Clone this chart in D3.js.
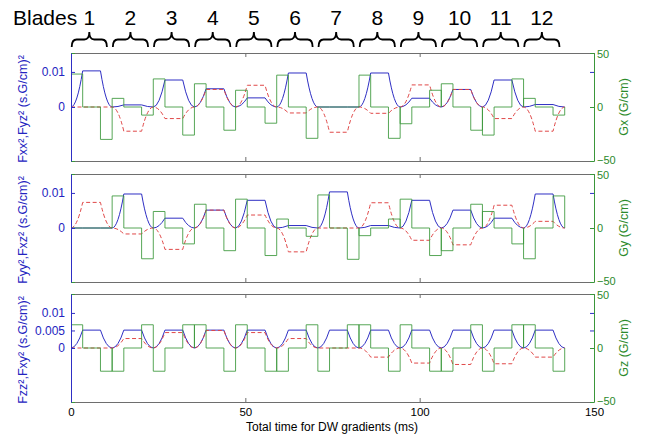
<!DOCTYPE html>
<html>
<head>
<meta charset="utf-8">
<script src="https://cdn.jsdelivr.net/npm/d3@7"></script>
<style>
  body { margin: 0; background: #fff; }
  svg { display: block; }
  text { font-family: "Liberation Sans", Arial, sans-serif; }
</style>
</head>
<body>
<svg id="chart" width="645" height="436"></svg>
<script>
// blade boundaries (ms) and lobe duration
const bladeEdges = [0, 11.8, 23.6, 35.4, 47.2, 59.0, 70.8, 82.6, 94.4, 106.2, 118.0, 129.8, 141.6];
const lobeMs = 3.35;
const bladeLabels = ['1', '2', '3', '4', '5', '6', '7', '8', '9', '10', '11', '12'];

// gradient amplitude (G/cm) of the first and second lobe of each blade
const gxLobeA = [30.5, 8, 26, 21.5, 15.5, 29.5, 0, 29.5, -15.5, 21.5, -26, 8];
const gxLobeB = [-30, -7.5, -26, -21.5, -15, -29, 0, -29, 15.5, -21.5, 26, -7.5];
const gyLobeA = [0, 29.7, 15.3, 22, 26.7, 8.3, 30.6, -7.1, 26.7, -21, 15.3, -28.5];
const gyLobeB = [0, -28.5, -14.7, -21, -25.5, -7.7, -29, 8.3, -25.5, 22, -14.7, 29.7];
const gzLobeA = [21.5, -21.5, -21.5, 21.5, 21.5, -21.5, -21.5, 21.5, 21.5, -21.5, -21.5, 21.5];
const gzLobeB = [-21.5, 21.5, 21.5, -21.5, -21.5, 21.5, 21.5, -21.5, -21.5, 21.5, 21.5, -21.5];

// plateau of each moment product between the two lobes, (s.G/cm)^2
const fxxSq = [0.0103, 0.0006, 0.0077, 0.0052, 0.0026, 0.0097, 0, 0.0097, 0.0025, 0.0050, 0.0077, 0.0007];
const fyzSq = [0, -0.0069, -0.0033, 0.0050, 0.0062, -0.0017, -0.0072, -0.0018, 0.0063, 0.0050, -0.0033, -0.0069];
const fyySq = [0, 0.0097, 0.0028, 0.0051, 0.0079, 0.0007, 0.0103, 0.0007, 0.0079, 0.0051, 0.0028, 0.0097];
const fxzSq = [0.0073, -0.0017, -0.0061, 0.0051, 0.0037, -0.0068, 0, 0.0072, -0.0035, -0.0048, 0.0065, 0.0019];
const fzzSq = [0.0051, 0.0051, 0.0051, 0.0051, 0.0051, 0.0051, 0.0051, 0.0051, 0.0051, 0.0051, 0.0051, 0.0051];
const fxySq = [0, 0.0027, 0.0044, 0.0050, 0.0044, 0.0027, 0, -0.0026, -0.0043, -0.0047, -0.0045, -0.0026];

const xTicks = [0, 50, 100, 150];
const gTicks = [-50, 0, 50];

const panels = [
  { top: 53, gA: gxLobeA, gB: gxLobeB, blue: fxxSq, red: fyzSq, fTicks: [0, 0.01],
    fLabel: 'Fxx²,Fyz² (s.G/cm)²', gLabel: 'Gx (G/cm)' },
  { top: 174, gA: gyLobeA, gB: gyLobeB, blue: fyySq, red: fxzSq, fTicks: [0, 0.01],
    fLabel: 'Fyy²,Fxz² (s.G/cm)²', gLabel: 'Gy (G/cm)' },
  { top: 294, gA: gzLobeA, gB: gzLobeB, blue: fzzSq, red: fxySq, fTicks: [0, 0.005, 0.01],
    fLabel: 'Fzz²,Fxy² (s.G/cm)²', gLabel: 'Gz (G/cm)' }
];

const panelH = 108;
const blue = '#2f2fc4';
const red = '#e04848';
const green = '#3a963a';
const greenText = '#2c8a2c';
const blueText = '#2323c0';
const gray = '#6e6e6e';

const svg = d3.select('#chart');
const x = d3.scaleLinear().domain([0, 150]).range([71, 594]);

// moments grow quadratically while a lobe is on: draw ramps as parabolas
function rampCurve(baseY) {
  return function (context) {
    let px, py, started;
    return {
      areaStart() {},
      areaEnd() {},
      lineStart() { started = false; },
      lineEnd() {},
      point(cx, cy) {
        cx = +cx; cy = +cy;
        if (!started) { context.moveTo(cx, cy); started = true; }
        else if (Math.abs(cy - py) < 0.01) context.lineTo(cx, cy);
        else context.quadraticCurveTo((px + cx) / 2, baseY, cx, cy);
        px = cx; py = cy;
      }
    };
  };
}

const blades = bladeLabels.map((label, i) => ({ label, t0: bladeEdges[i], t1: bladeEdges[i + 1] }));

// blade braces and numbers
svg.append('text')
  .attr('x', 13).attr('y', 25)
  .attr('font-size', 21).attr('fill', '#000')
  .text('Blades');

blades.forEach((b) => {
  const x0 = x(b.t0 + 0.2), x1 = x(b.t0 + 10.3), cx = (x0 + x1) / 2;
  const p = d3.path();
  p.moveTo(x0, 47);
  p.quadraticCurveTo(x0, 39.5, x0 + 5, 39.5);
  p.lineTo(cx - 5, 39.5);
  p.quadraticCurveTo(cx, 39.5, cx, 32);
  p.quadraticCurveTo(cx, 39.5, cx + 5, 39.5);
  p.lineTo(x1 - 5, 39.5);
  p.quadraticCurveTo(x1, 39.5, x1, 47);
  svg.append('path').attr('d', p.toString())
    .attr('fill', 'none').attr('stroke', '#000').attr('stroke-width', 1.8);
  svg.append('text')
    .attr('x', cx).attr('y', 25)
    .attr('text-anchor', 'middle')
    .attr('font-size', 21).attr('fill', '#000')
    .text(b.label);
});

panels.forEach((pan, pi) => {
  const yF = d3.scaleLinear().domain([-0.0154, 0.0154]).range([pan.top + panelH, pan.top]);
  const yG = d3.scaleLinear().domain([-50, 50]).range([pan.top + panelH, pan.top]);

  svg.append('clipPath').attr('id', 'clip' + pi)
    .append('rect')
    .attr('x', x(0)).attr('y', pan.top - 1)
    .attr('width', x(150) - x(0)).attr('height', panelH + 2);

  const plot = svg.append('g').attr('clip-path', `url(#clip${pi})`);

  const fPoints = (vals) => blades.flatMap((b, i) => [
    [b.t0, 0], [b.t0 + lobeMs, vals[i]], [b.t1 - lobeMs, vals[i]], [b.t1, 0]
  ]);
  const fLine = d3.line()
    .x((d) => x(d[0]))
    .y((d) => yF(d[1]))
    .curve(rampCurve(yF(0)));

  plot.append('path')
    .attr('d', fLine(fPoints(pan.blue)))
    .attr('fill', 'none').attr('stroke', blue).attr('stroke-width', 1);

  plot.append('path')
    .attr('d', fLine(fPoints(pan.red)))
    .attr('fill', 'none').attr('stroke', red).attr('stroke-width', 1)
    .attr('stroke-dasharray', '4,2.5');

  const gLine = d3.line()
    .x((d) => x(d[0]))
    .y((d) => yG(d[1]))
    .curve(d3.curveStepAfter);

  blades.forEach((b, i) => {
    const pts = [[b.t0, 0], [b.t0, pan.gA[i]], [b.t0 + lobeMs, 0], [b.t1 - lobeMs, pan.gB[i]], [b.t1, 0]];
    plot.append('path')
      .attr('d', gLine(pts))
      .attr('fill', 'none').attr('stroke', green).attr('stroke-width', 1)
      .attr('stroke-opacity', 0.85);
  });

  // axes
  const styleAxis = (sel, color, textColor, size) => {
    sel.select('.domain').attr('stroke', color);
    sel.selectAll('.tick line').attr('stroke', color);
    sel.selectAll('.tick text').attr('fill', textColor).attr('font-size', size || 12)
      .attr('font-family', '"Liberation Sans", Arial, sans-serif');
  };

  const top = svg.append('g').attr('transform', `translate(0,${pan.top})`)
    .call(d3.axisTop(x).tickValues(xTicks).tickSizeInner(-4).tickSizeOuter(0).tickFormat(''));
  styleAxis(top, gray, gray);

  const bottom = svg.append('g').attr('transform', `translate(0,${pan.top + panelH})`)
    .call(d3.axisBottom(x).tickValues(xTicks).tickSizeInner(-4).tickSizeOuter(0).tickPadding(6)
      .tickFormat(pi === 2 ? (d) => String(d) : ''));
  styleAxis(bottom, gray, '#000', 11.5);

  // mirrored ticks (no labels)
  const rightF = svg.append('g').attr('transform', `translate(${x(150)},0)`)
    .call(d3.axisRight(yF).tickValues(pan.fTicks).tickSizeInner(-4).tickSizeOuter(0).tickFormat(''));
  rightF.select('.domain').remove();
  styleAxis(rightF, blue, blue);

  const leftG = svg.append('g').attr('transform', `translate(${x(0)},0)`)
    .call(d3.axisLeft(yG).tickValues(gTicks).tickSizeInner(-4).tickSizeOuter(0).tickFormat(''));
  leftG.select('.domain').remove();
  styleAxis(leftG, green, green);

  const left = svg.append('g').attr('transform', `translate(${x(0)},0)`)
    .call(d3.axisLeft(yF).tickValues(pan.fTicks).tickSizeInner(-4).tickSizeOuter(0).tickPadding(6)
      .tickFormat((d) => String(d)));
  styleAxis(left, blue, blueText);

  const right = svg.append('g').attr('transform', `translate(${x(150)},0)`)
    .call(d3.axisRight(yG).tickValues(gTicks).tickSizeInner(-4).tickSizeOuter(0).tickPadding(3));
  styleAxis(right, green, greenText, 11);
  right.selectAll('.tick text').filter((d) => d < 0).attr('dy', '0.2em');
  right.selectAll('.tick text').filter((d) => d > 0).attr('dy', '0.4em');

  // axis titles
  svg.append('text')
    .attr('transform', `translate(27,${pan.top + panelH / 2 + 2}) rotate(-90)`)
    .attr('text-anchor', 'middle')
    .attr('font-size', 12.5).attr('fill', blueText)
    .text(pan.fLabel);

  svg.append('text')
    .attr('transform', `translate(628,${pan.top + panelH / 2}) rotate(-90)`)
    .attr('text-anchor', 'middle')
    .attr('font-size', 12.5).attr('fill', greenText)
    .text(pan.gLabel);
});

svg.append('text')
  .attr('x', 332).attr('y', 431)
  .attr('text-anchor', 'middle')
  .attr('font-size', 12).attr('fill', '#000')
  .text('Total time for DW gradients (ms)');
</script>
</body>
</html>
